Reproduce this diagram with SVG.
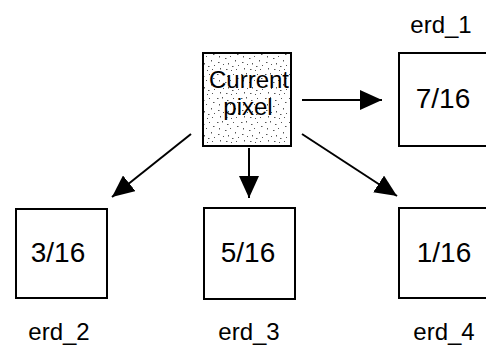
<svg xmlns="http://www.w3.org/2000/svg" width="486" height="346" viewBox="0 0 486 346">
<style>
.box{fill:#fff;stroke:#000;stroke-width:2}
.t{font-family:"Liberation Sans",Arial,sans-serif;fill:#000;text-anchor:middle}
.v{font-size:28px}
.l{font-size:24px}
.c{stroke:#000;stroke-width:2;fill:none;marker-end:url(#ah)}
</style>
<defs>
<marker id="ah" viewBox="0 0 22 20" refX="22" refY="10" markerWidth="22" markerHeight="20" orient="auto" markerUnits="userSpaceOnUse">
<path d="M0,0 L22,10 L0,20 Z" fill="#000"/>
</marker>
<pattern id="noise" width="24" height="24" patternUnits="userSpaceOnUse">
<rect width="24" height="24" fill="#fff"/>
<g fill="#555">
<rect x="1" y="2" width="1.5" height="1"/><rect x="6" y="1" width="1" height="1.5"/><rect x="11" y="4" width="1.5" height="1"/>
<rect x="17" y="2" width="1" height="1"/><rect x="21" y="6" width="1.5" height="1"/><rect x="3" y="8" width="1" height="1.5"/>
<rect x="9" y="10" width="1.5" height="1"/><rect x="14" y="8" width="1" height="1"/><rect x="19" y="12" width="1" height="1.5"/>
<rect x="2" y="14" width="1.5" height="1"/><rect x="7" y="16" width="1" height="1"/><rect x="12" y="15" width="1" height="1.5"/>
<rect x="16" y="18" width="1.5" height="1"/><rect x="22" y="17" width="1" height="1"/><rect x="4" y="20" width="1" height="1.5"/>
<rect x="10" y="21" width="1.5" height="1"/><rect x="15" y="22" width="1" height="1"/><rect x="20" y="21" width="1" height="1"/>
</g>
</pattern>
</defs>
<g id="connectors">
<line class="c" x1="302" y1="100" x2="382" y2="100"/>
<line class="c" x1="191" y1="134" x2="112" y2="197"/>
<line class="c" x1="249" y1="148" x2="249" y2="198"/>
<line class="c" x1="302" y1="134" x2="397" y2="196"/>
</g>
<g id="current">
<rect x="203" y="53" width="88" height="93" fill="url(#noise)" stroke="#000" stroke-width="2"/>
<text class="t l" x="249" y="88">Current</text>
<text class="t l" x="248" y="115">pixel</text>
</g>
<g id="erd_1">
<rect class="box" x="399" y="53" width="92" height="93"/>
<text class="t v" x="443" y="108">7/16</text>
<text class="t l" x="441" y="33">erd_1</text>
</g>
<g id="erd_2">
<rect class="box" x="16" y="209" width="91" height="89"/>
<text class="t v" x="58" y="262">3/16</text>
<text class="t l" x="59" y="340">erd_2</text>
</g>
<g id="erd_3">
<rect class="box" x="204" y="208" width="91" height="91"/>
<text class="t v" x="248" y="262">5/16</text>
<text class="t l" x="249" y="340">erd_3</text>
</g>
<g id="erd_4">
<rect class="box" x="399" y="208" width="92" height="90"/>
<text class="t v" x="444" y="262">1/16</text>
<text class="t l" x="444" y="340">erd_4</text>
</g>
</svg>
